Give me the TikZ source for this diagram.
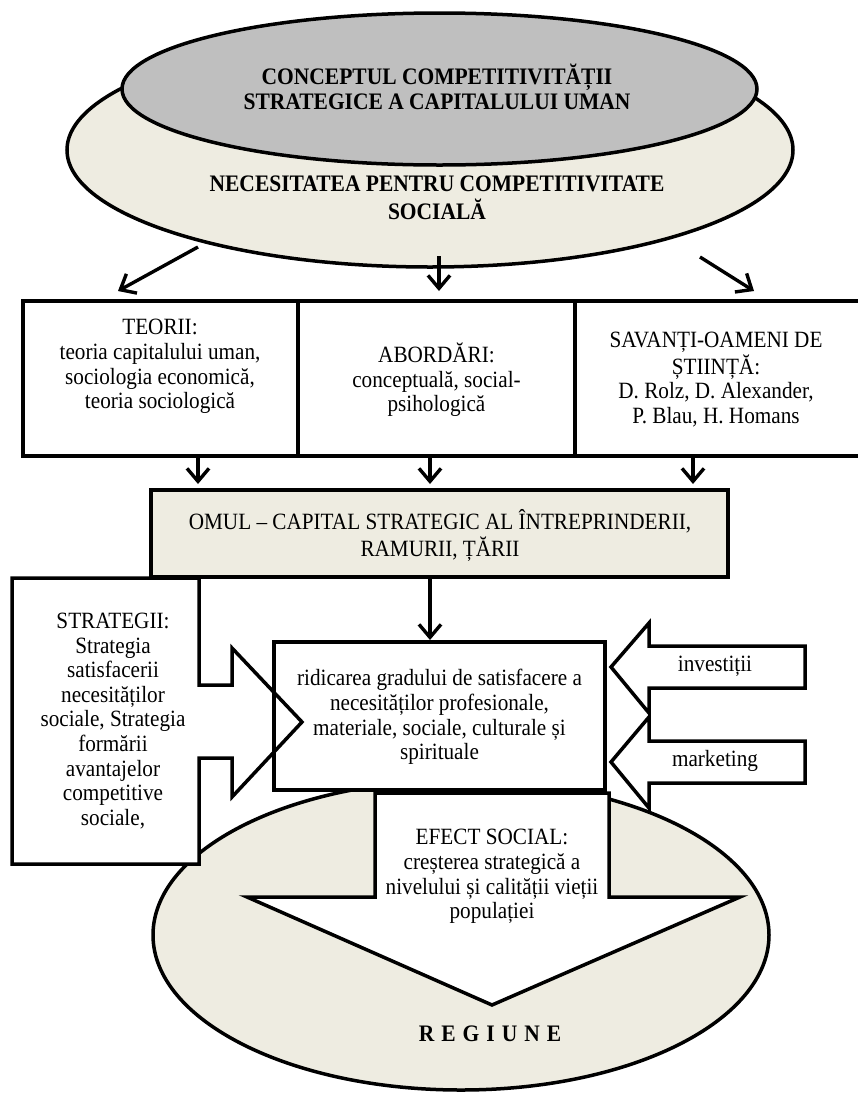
\documentclass[tikz,border=0pt]{standalone}
\usepackage{fontspec}
\usepackage{graphicx}
\setmainfont{Liberation Serif}
\usetikzlibrary{arrows.meta,shapes.geometric}
\definecolor{greyfill}{RGB}{191,191,191}
\definecolor{beige}{RGB}{238,236,225}
\newcommand\stxt[1]{\scalebox{1}[1.1]{\begin{tabular}{@{}c@{}}#1\end{tabular}}}
\tikzset{
  txt/.style={inner sep=0pt, font=\fontsize{21.2}{22.4}\selectfont},
  btxt/.style={inner sep=0pt, font=\bfseries\fontsize{21.5}{22.3}\selectfont},
  frame/.style={draw=black, line width=3.5pt, inner sep=0pt, outer sep=0pt},
  arr/.style={line width=3.4pt, -{Straight Barb[length=13pt,width=22pt]}},
  outl/.style={draw=black, line width=3.5pt, line join=miter},
}
\begin{document}
\begin{tikzpicture}[x=1pt,y=-1pt]
\useasboundingbox (0,0) rectangle (858,1093);
\clip (0,0) rectangle (858,1093);

% top ellipses
\node[frame, ellipse, fill=beige, minimum width=726, minimum height=234] (need) at (430,150) {};
\node[frame, ellipse, fill=greyfill, minimum width=635, minimum height=152] (concept) at (439.5,89) {};
\node[btxt] (conceptT) at (437,90.5) {\stxt{CONCEPTUL COMPETITIVITĂȚII\\STRATEGICE A CAPITALULUI UMAN}};
\node[btxt] (needT) at (437,201) {\stxt{NECESITATEA PENTRU COMPETITIVITATE\\SOCIALĂ}};

% top row boxes
\node[frame, fill=white, minimum width=275, minimum height=155] (teorii) at (160.5,378.5) {};
\node[frame, fill=white, minimum width=277, minimum height=155] (abord) at (436.5,378.5) {};
\node[frame, fill=white, minimum width=300, minimum height=155] (savanti) at (725,378.5) {};
\node[txt] (teoriiT) at (160,367) {\stxt{TEORII:\\teoria capitalului uman,\\sociologia economică,\\teoria sociologică}};
\node[txt] (abordT) at (436.5,381) {\stxt{ABORDĂRI:\\conceptuală, social-\\psihologică}};
\node[txt] (savantiT) at (716,380.5) {\stxt{SAVANȚI-OAMENI DE\\ȘTIINȚĂ:\\D. Rolz, D. Alexander,\\P. Blau, H. Homans}};

% arrows from the ellipse
\coordinate (s1) at (198,247); \coordinate (e1) at (118,291);
\coordinate (s2) at (439,256); \coordinate (e2) at (439,291);
\coordinate (s3) at (700,257); \coordinate (e3) at (754,291);
\draw[arr] (s1) -- (e1);
\draw[arr] (s2) -- (e2);
\draw[arr] (s3) -- (e3);

% OMUL box
\node[frame, fill=beige, minimum width=577, minimum height=87] (omul) at (439.5,533.5) {};
\node[txt] (omulT) at (440,536.5) {\stxt{OMUL – CAPITAL STRATEGIC AL ÎNTREPRINDERII,\\RAMURII, ȚĂRII}};

\coordinate (b1) at (198,484); \coordinate (b2) at (430,484); \coordinate (b3) at (693,484);
\draw[arr] (b1 |- teorii.south) -- (b1);
\draw[arr] (b2 |- abord.south) -- (b2);
\draw[arr] (b3 |- savanti.south) -- (b3);

% bottom ellipse
\node[frame, ellipse, fill=beige, minimum width=616, minimum height=310] (region) at (461,935) {};
\node[btxt] (regionT) at (490,1037)
  {\stxt{R\hspace{7pt}E\hspace{7pt}G\hspace{7pt}I\hspace{7pt}U\hspace{7pt}N\hspace{7pt}E}};

% central box
\node[frame, fill=white, minimum width=331, minimum height=148] (rid) at (439.5,716) {};
\coordinate (o1) at (430,640);
\draw[arr] (o1 |- omul.south) -- (o1);

% strategii callout
\path[outl, fill=white] (12,578) -- (199,578) -- (199,685) -- (232,685) -- (232,648) -- (302,722)
  -- (232,797) -- (232,758) -- (199,758) -- (199,864) -- (12,864) -- cycle;
\node[txt] (stratT) at (113,722) {\stxt{STRATEGII:\\Strategia\\satisfacerii\\necesităților\\sociale, Strategia\\formării\\avantajelor\\competitive\\sociale,}};

% investitii / marketing callouts
\path[outl, fill=white] (805,646) -- (649,646) -- (649,623) -- (611,667) -- (649,713) -- (649,688) -- (805,688) -- cycle;
\path[outl, fill=white] (805,741) -- (649,741) -- (649,717) -- (611,762) -- (649,808) -- (649,783) -- (805,783) -- cycle;
\node[txt] (invT) at (715,667) {\stxt{investiții}};
\node[txt] (markT) at (715,762) {\stxt{marketing}};

% re-stroke central box border over the arrow tips
\draw[line width=3.5pt] (rid.north west) rectangle (rid.south east);
\node[txt] (ridT) at (439.5,718) {\stxt{ridicarea gradului de satisfacere a\\necesităților profesionale,\\materiale, sociale, culturale și\\spirituale}};

% efect social callout
\path[outl, fill=white] (375,793) -- (609,793) -- (609,897) -- (740,897) -- (492,1005) -- (247,897) -- (375,897) -- cycle;
\node[txt] (efectT) at (492,877) {\stxt{EFECT SOCIAL:\\creșterea strategică a\\nivelului și calității vieții\\populației}};
\end{tikzpicture}
\end{document}
